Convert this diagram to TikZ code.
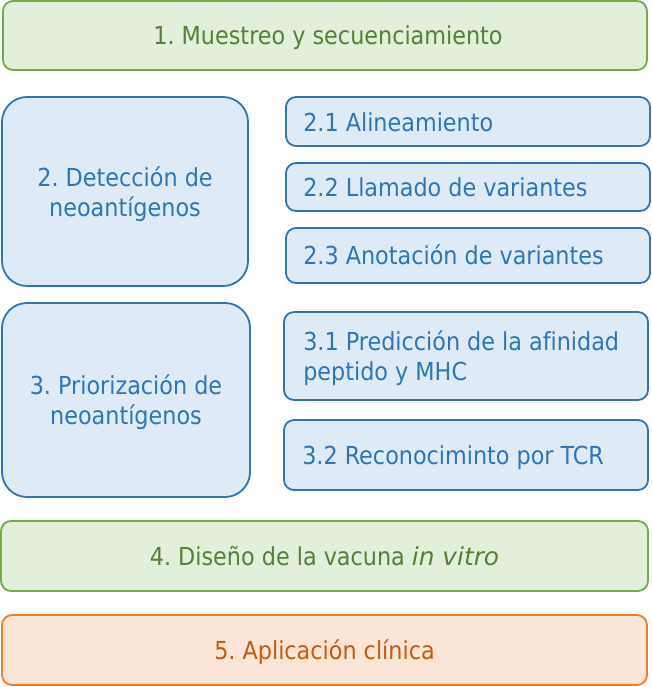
\documentclass[tikz,border=0pt]{standalone}
\usepackage{fontspec}
\IfFontExistsTF{DejaVu Sans Condensed}{\setmainfont{DejaVu Sans Condensed}[Ligatures=NoCommon,ItalicFont={DejaVu Sans Oblique}]}{\setmainfont{DejaVu Sans}[FakeStretch=0.9,Ligatures=NoCommon,ItalicFont={DejaVu Sans Oblique}]}
\frenchspacing
\definecolor{gfill}{HTML}{E2EFDA}
\definecolor{gline}{HTML}{70AD47}
\definecolor{gtext}{HTML}{538135}
\definecolor{bfill}{HTML}{DEEBF7}
\definecolor{bline}{HTML}{2E75B6}
\definecolor{btext}{HTML}{2E75B6}
\definecolor{ofill}{HTML}{FBE5D6}
\definecolor{oline}{HTML}{ED7D31}
\definecolor{otext}{HTML}{C55A11}
\begin{document}
\begin{tikzpicture}[x=1pt,y=-1pt,
  base/.style={draw, line width=1.8pt, rounded corners=10pt, inner sep=0pt},
  txt/.style={inner sep=0pt, font=\fontsize{24.8}{30}\selectfont},
  greenbox/.style={base, fill=gfill, draw=gline},
  orangebox/.style={base, fill=ofill, draw=oline},
  bigblue/.style={base, fill=bfill, draw=bline, rounded corners=25pt},
  subblue/.style={base, fill=bfill, draw=bline},
  gtxt/.style={txt, text=gtext, anchor=base},
  otxt/.style={txt, text=otext, anchor=base},
  btxt/.style={txt, text=btext, anchor=base},
  ltxt/.style={txt, text=btext, anchor=base west},
]
\useasboundingbox (0,0) rectangle (652,687);
\node[greenbox, minimum width=644pt, minimum height=69pt] (s1) at (325,35.5) {};
\node[gtxt] (t1) at ([xshift=3pt, yshift=-9.5pt]s1.center) {1. Muestreo y secuenciamiento};
\node[bigblue, minimum width=246pt, minimum height=189pt] (s2) at (125,191.5) {};
\node[btxt] (t2a) at ([yshift=5.5pt]s2.center) {2. Detección de};
\node[btxt] (t2b) at ([yshift=-24.5pt]s2.center) {neoantígenos};
\node[subblue, minimum width=364pt, minimum height=49pt] (s21) at (468,121.5) {};
\node[ltxt] (t21) at ([xshift=18pt, yshift=-10pt]s21.west) {2.1 Alineamiento};
\node[subblue, minimum width=364pt, minimum height=48pt] (s22) at (468,187) {};
\node[ltxt] (t22) at ([xshift=18pt, yshift=-9pt]s22.west) {2.2 Llamado de variantes};
\node[subblue, minimum width=364pt, minimum height=55pt] (s23) at (468,255.5) {};
\node[ltxt] (t23) at ([xshift=18pt, yshift=-8.5pt]s23.west) {2.3 Anotación de variantes};
\node[bigblue, minimum width=248pt, minimum height=194pt] (s3) at (126,400) {};
\node[btxt] (t3a) at ([yshift=6pt]s3.center) {3. Priorización de};
\node[btxt] (t3b) at ([yshift=-24pt]s3.center) {neoantígenos};
\node[subblue, minimum width=364pt, minimum height=88pt] (s31) at (466,356) {};
\node[ltxt] (t31a) at ([xshift=20pt, yshift=6pt]s31.west) {3.1 Predicción de la afinidad};
\node[ltxt] (t31b) at ([xshift=20pt, yshift=-24pt]s31.west) {peptido y MHC};
\node[subblue, minimum width=364pt, minimum height=70pt] (s32) at (466,455) {};
\node[ltxt] (t32) at ([xshift=19pt, yshift=-9pt]s32.west) {3.2 Reconociminto por TCR};
\node[greenbox, minimum width=647pt, minimum height=70pt] (s4) at (324.5,556) {};
\node[gtxt] (t4) at ([yshift=-9.5pt]s4.center) {4. Diseño de la vacuna \textit{in vitro}};
\node[orangebox, minimum width=645pt, minimum height=70pt] (s5) at (324.5,650) {};
\node[otxt] (t5) at ([yshift=-9.5pt]s5.center) {5. Aplicación clínica};
\end{tikzpicture}
\end{document}
